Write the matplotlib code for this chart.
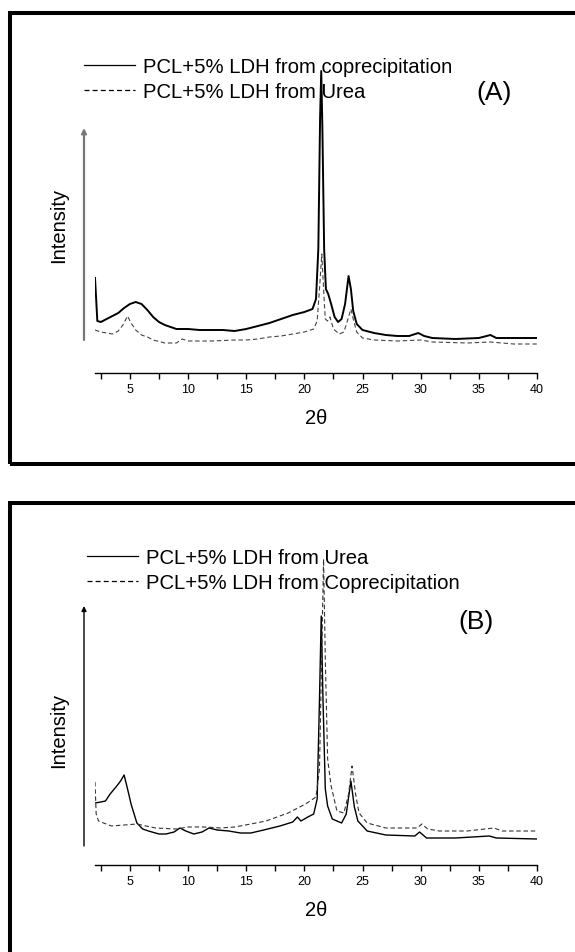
import matplotlib
matplotlib.use("Agg")
import matplotlib.pyplot as plt
from matplotlib.patches import Rectangle
from matplotlib.ticker import MultipleLocator

plt.rcParams['font.family'] = ['Liberation Sans', 'DejaVu Sans']

W, H = 575, 953

# ---- Panel A: 2-theta / intensity (arbitrary units) ----
a_copr_x = [2.0, 2.1, 2.2, 2.5, 3.0, 3.5, 4.0, 4.5, 5.0, 5.5, 6.0, 6.5, 7.0, 7.5, 8.0, 8.5,
            9.0, 10, 11, 12, 13, 14, 15, 16, 17, 18, 19, 20, 20.7, 21.0, 21.2, 21.35,
            21.45, 21.55, 21.7, 21.85, 22.05, 22.3, 22.6, 22.9, 23.2, 23.5, 23.8, 24.0,
            24.2, 24.5, 25, 26, 27, 28, 29, 29.8, 30.3, 31, 33, 35, 36.0, 36.5, 38, 40]
a_copr_y = [95, 74, 52, 51, 54, 57, 60, 65, 69, 71, 69, 63, 56, 51, 48, 46,
            44, 44, 43, 43, 43, 42, 44, 47, 50, 54, 58, 61, 64, 74, 124, 254,
            302, 244, 124, 84, 79, 69, 56, 51, 54, 69, 97, 84,
            62, 49, 43, 40, 38, 37, 37, 40, 37, 35, 34, 35, 38, 35, 35, 35]

a_urea_x = [2.0, 2.5, 3.0, 3.5, 4.0, 4.4, 4.8, 5.1, 5.5, 6.0, 6.5, 7.0, 8, 9, 9.5, 10,
            12, 14, 15, 16, 17, 18, 19, 20, 20.8, 21.1, 21.3, 21.5, 21.65, 21.8, 22.0,
            22.2, 22.5, 23.0, 23.4, 23.8, 24.0, 24.2, 24.5, 25, 26, 28, 30, 31, 34, 36,
            38, 40]
a_urea_y = [43, 41, 40, 39, 42, 48, 57, 50, 43, 38, 36, 33, 30, 30, 34, 32,
            32, 33, 33, 34, 36, 37, 39, 41, 44, 52, 84, 119, 84, 54, 52,
            56, 44, 39, 41, 56, 64, 54, 41, 35, 33, 32, 33, 31, 30, 31,
            29, 29]

# ---- Panel B ----
b_urea_x = [2.0, 2.5, 2.9, 3.3, 3.8, 4.2, 4.5, 4.8, 5.1, 5.6, 6.1, 6.6, 7.5, 8.1, 8.8,
            9.3, 9.8, 10.5, 11.2, 11.8, 12.5, 13.5, 14.5, 15.4, 16.5, 17.9, 19.0, 19.4,
            19.7, 20.3, 20.8, 21.1, 21.3, 21.45, 21.6, 21.8, 22.0, 22.4, 23.2, 23.6,
            24.0, 24.3, 24.6, 25.4, 27, 29.5, 29.9, 30.5, 33, 35.9, 36.5, 40]
b_urea_y = [62, 63, 64, 71, 78, 84, 90, 76, 61, 42, 36, 34, 31, 31, 33,
            37, 34, 31, 33, 37, 35, 34, 32, 32, 35, 39, 43, 48,
            44, 48, 51, 66, 166, 249, 166, 76, 59, 46, 42, 51,
            84, 58, 44, 34, 30, 29, 33, 27, 27, 29, 27, 26]

b_copr_x = [2.0, 2.1, 2.3, 3.4, 4.5, 5.6, 7.2, 9.0, 10, 11.5, 12.8, 14, 15.4, 16.7, 18.6,
            20.1, 21.0, 21.3, 21.5, 21.65, 21.8, 22.0, 22.3, 22.8, 23.4, 23.8, 24.1,
            24.4, 24.7, 25.4, 27, 29.7, 30.1, 30.6, 31.6, 34, 36.3, 37, 40]
b_copr_y = [83, 51, 44, 39, 40, 41, 37, 36, 38, 38, 37, 38, 41, 44, 52,
            61, 68, 96, 216, 306, 206, 106, 79, 54, 52, 71, 99,
            71, 52, 42, 37, 37, 41, 36, 34, 34, 37, 34, 34]

a_labels = ["PCL+5% LDH from coprecipitation", "PCL+5% LDH from Urea"]
b_labels = ["PCL+5% LDH from Urea", "PCL+5% LDH from Coprecipitation"]


def fx(px):
    return px / W


def fy(py):
    return 1 - py / H


fig = plt.figure(figsize=(W / 100, H / 100), dpi=100)

# boxes around the panels (open on the right / bottom as in the scan)
fig.patches.append(Rectangle((fx(10), fy(465)), 1.2, fy(14) - fy(465), fill=False,
                             ec='black', lw=2.9, transform=fig.transFigure))
fig.patches.append(Rectangle((fx(10), -0.2), 1.2, fy(504) + 0.2, fill=False,
                             ec='black', lw=2.9, transform=fig.transFigure))


def make_panel(axis_py, solid, dashed, labels, leg, arrow, tag, solid_lw, dash_color,
               arrow_color, arrow_lw):
    ax = fig.add_axes([fx(95), fy(axis_py), fx(537) - fx(95), 314 / H])
    ax.set_xlim(2, 40)
    ax.set_ylim(0, 314)
    l1, = ax.plot(solid[0], solid[1], color='black', lw=solid_lw)
    l2, = ax.plot(dashed[0], dashed[1], color=dash_color, lw=0.8, dashes=(4, 2.5))
    for s in ['left', 'top', 'right']:
        ax.spines[s].set_visible(False)
    ax.spines['bottom'].set_linewidth(1.0)
    ax.set_yticks([])
    ax.xaxis.set_major_locator(MultipleLocator(5))
    ax.xaxis.set_minor_locator(MultipleLocator(2.5))
    ax.tick_params(axis='x', which='both', direction='out', length=4, width=1, labelsize=9, pad=3)
    ax.patch.set_visible(False)

    # intensity arrow in place of the y axis
    x0 = 2 + (84 - 95) / ((537 - 95) / 38)
    ax.annotate('', xy=(x0, axis_py - arrow[1]), xytext=(x0, axis_py - arrow[0]),
                annotation_clip=False,
                arrowprops=dict(arrowstyle='-|>', color=arrow_color, lw=arrow_lw,
                                mutation_scale=7, shrinkA=0, shrinkB=0))

    lg = ax.legend([l1, l2], labels, loc='upper left', frameon=False,
                   bbox_to_anchor=(fx(leg[0]), fy(leg[1])), bbox_transform=fig.transFigure,
                   borderpad=0, borderaxespad=0, handlelength=2.5, handletextpad=0.4,
                   labelspacing=0.3, fontsize=14.6)
    for h in lg.legend_handles:
        h.set_color('black')
        h.set_linewidth(0.9)

    fig.text(fx(59), fy(arrow[2]), 'Intensity', rotation=90, fontsize=14.5,
             ha='center', va='center')
    fig.text(fx(316), fy(axis_py + 45), '2\u03b8', fontsize=14.5, ha='center', va='center')
    fig.text(fx(tag[1]), fy(tag[2]), tag[0], fontsize=19, ha='center', va='center')
    return ax


make_panel(374, (a_copr_x, a_copr_y), (a_urea_x, a_urea_y), a_labels,
           (84, 58), (341, 129, 225), ('(A)', 494, 93), 1.4, '#444444', '#777777', 1.6)
make_panel(866, (b_urea_x, b_urea_y), (b_copr_x, b_copr_y), b_labels,
           (87, 549), (847, 607, 730), ('(B)', 476, 622), 1.0, '#333333', 'black', 1.0)

fig.savefig('out.png', dpi=100)
